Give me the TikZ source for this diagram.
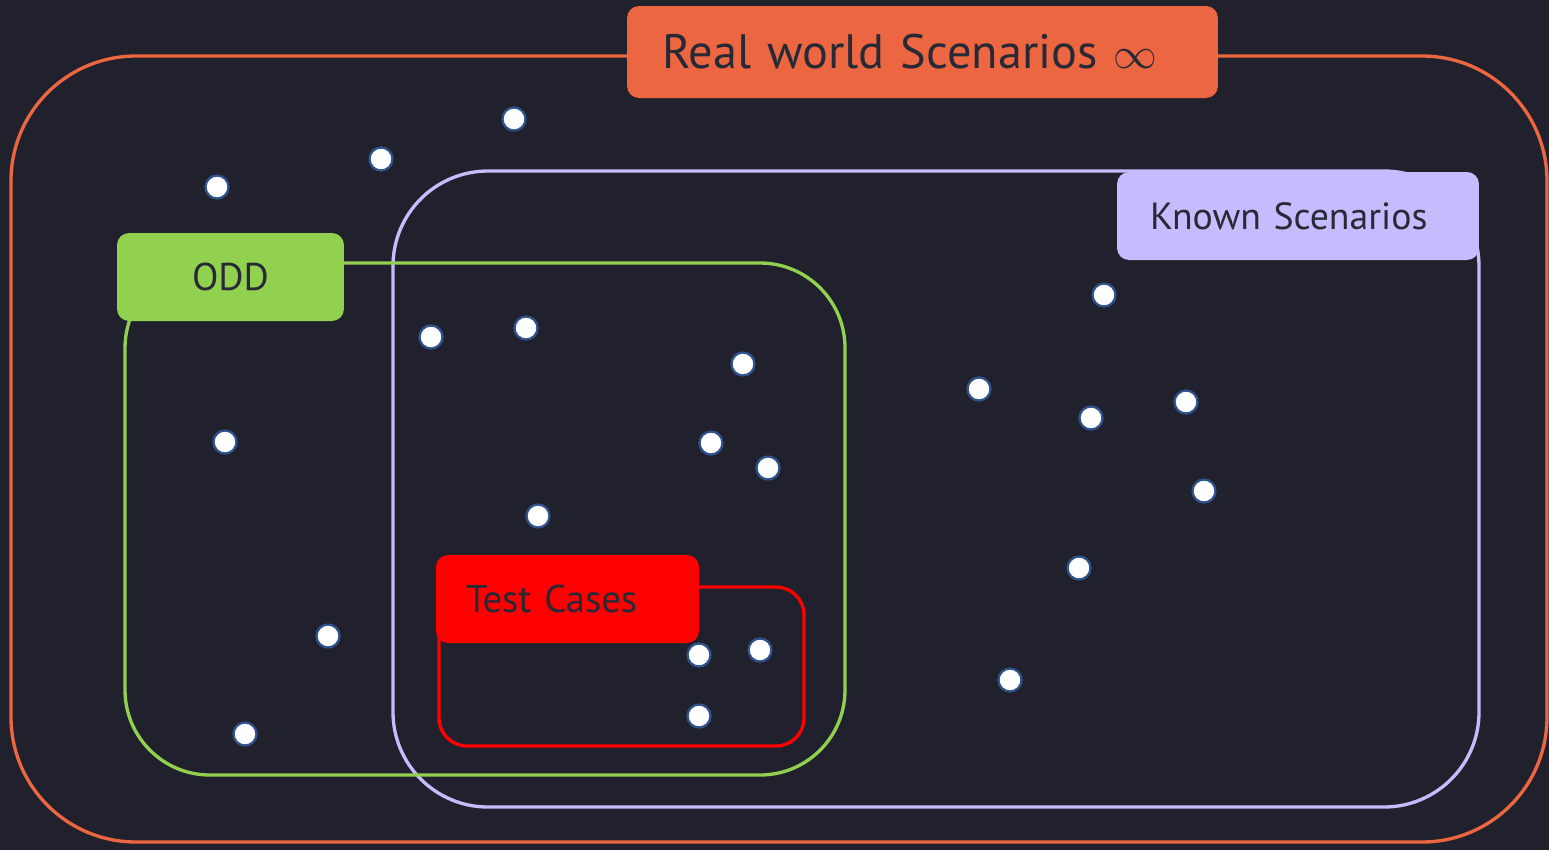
\documentclass[tikz,border=0pt]{standalone}
\usepackage{fontspec}
\setmainfont{PT Sans}
\definecolor{bgdark}{HTML}{20212C}
\definecolor{realworld}{HTML}{EC6641}
\definecolor{knownset}{HTML}{C5BBFD}
\definecolor{oddset}{HTML}{92D050}
\definecolor{testset}{HTML}{FF0000}
\definecolor{labeltext}{HTML}{272A36}
\definecolor{dotrim}{HTML}{2F528F}

\begin{document}
\begin{tikzpicture}[x=0.02cm, y=-0.02cm,
		setframe/.style={line width=1.9pt},
		setlabel/.style={rounded corners=0.24cm, text=labeltext, minimum height=1.76cm, inner ysep=0pt},
		scenario/.style={circle, fill=white, draw=dotrim, line width=1.3pt, minimum size=0.46cm, inner sep=0pt}]

			% background, fixes the page size
			\fill[bgdark] (0,0) rectangle (1549,850);

			% --- scenario sets ---
			\draw[setframe, realworld, rounded corners=2.5cm] (11,56) rectangle (1547,842);
			\draw[setframe, knownset, rounded corners=1.9cm] (393,171) rectangle (1479,807);
			\draw[setframe, oddset, rounded corners=1.7cm] (125,263) rectangle (845,775);
			\draw[setframe, testset, rounded corners=0.56cm] (439,587) rectangle (804,746);

			% --- set labels ---
			\node[setlabel, fill=realworld, minimum height=1.84cm, text width=10.42cm, inner xsep=0.7cm, align=left, font=\fontsize{27.5}{32}\selectfont] (realLbl) at (922.5,52) {Real world Scenarios $\infty$};
			\node[setlabel, fill=knownset, text width=5.92cm, inner xsep=0.66cm, align=left, font=\fontsize{21.5}{26}\selectfont] (knownLbl) at (1298,216) {Known Scenarios};
			\node[setlabel, fill=oddset, minimum width=4.54cm, font=\fontsize{22}{26}\selectfont] (oddLbl) at (230.5,277) {ODD};
			\node[setlabel, fill=testset, text width=4.06cm, inner xsep=0.6cm, align=left, font=\fontsize{22}{26}\selectfont] (testLbl) at (567.5,599) {Test Cases};

			% --- scenarios ---
			\foreach \dx/\dy [count=\i] in {514/119, 381/159, 217/187, 431/337, 526/328, 743/364,
				225/442, 711/443, 768/468, 538/516, 328/636, 245/734, 699/655, 760/650, 699/716,
				1104/295, 979/389, 1091/418, 1186/402, 1204/491, 1079/568, 1010/680} {
				\node[scenario] (sc\i) at (\dx,\dy) {};
			}

		\end{tikzpicture}
\end{document}
